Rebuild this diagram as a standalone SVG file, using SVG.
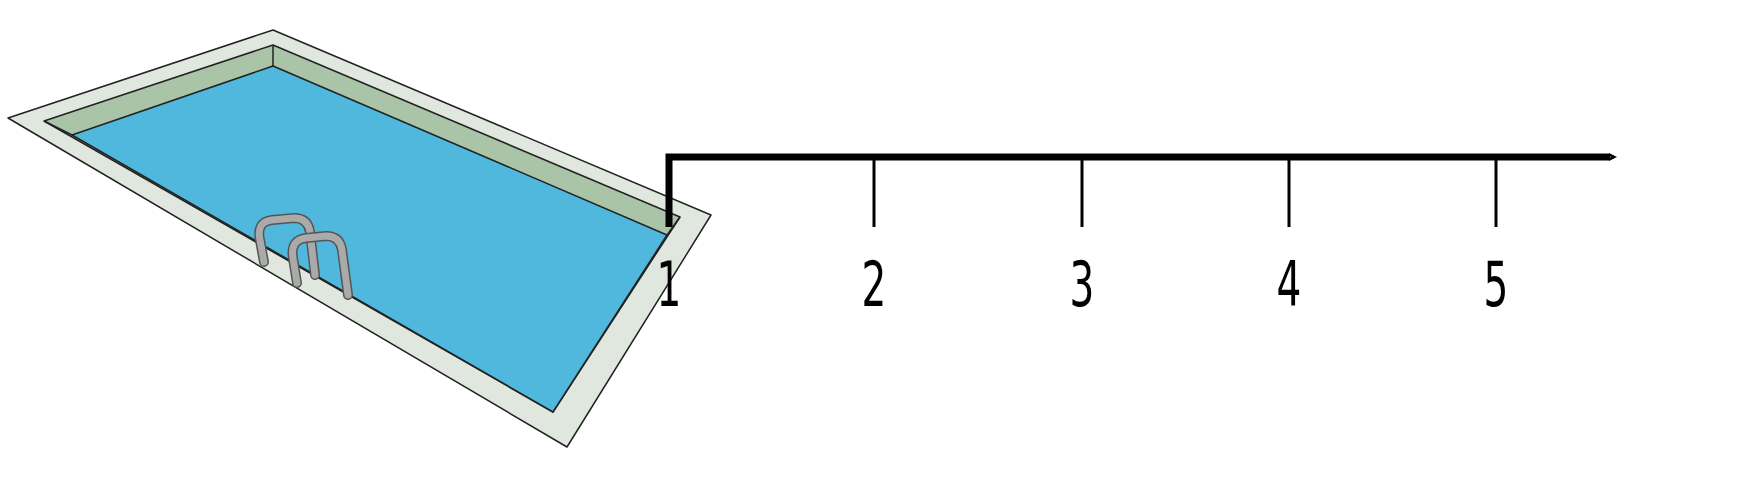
<svg xmlns="http://www.w3.org/2000/svg" width="1760" height="490" viewBox="0 0 1760 490">
<style>
.e{stroke:#222;stroke-width:1.5;stroke-linejoin:round}
.t{stroke:#000;stroke-width:3}
.l{font-family:"DejaVu Sans Condensed","Liberation Sans",sans-serif;font-size:62px;fill:#000;text-anchor:middle}
</style>
<defs><marker id="ah" markerWidth="8" markerHeight="8" refX="1" refY="4" orient="auto" markerUnits="userSpaceOnUse" viewBox="0 0 8 8"><path d="M0,0 L8,4 L0,8 L1.5,4Z"/></marker></defs>
<g id="pool">
<polygon class="e" fill="#dfe7de" points="273,30 711,215 567,447 8,118"/>
<polygon class="e" fill="#aac4a8" points="273,45 680,217 553,412 44,121"/>
<polygon class="e" fill="#4fb8dc" points="273,66 667,235 553,412 72,135"/>
<line class="e" x1="273" y1="45" x2="273" y2="66"/>
<line class="e" x1="680" y1="217" x2="667" y2="235"/>
<line class="e" x1="44" y1="121" x2="72" y2="135"/>
<g fill="none" stroke-linecap="round">
<path d="M264,262 L260,240 Q256,222 272,220 L294,218 Q308,218 310,232 L315,275" stroke="#555" stroke-width="10"/>
<path d="M264,262 L260,240 Q256,222 272,220 L294,218 Q308,218 310,232 L315,275" stroke="#aaa" stroke-width="7"/>
<path d="M297,283 L293,258 Q290,240 306,238 L326,236 Q340,236 342,250 L348,295" stroke="#555" stroke-width="10"/>
<path d="M297,283 L293,258 Q290,240 306,238 L326,236 Q340,236 342,250 L348,295" stroke="#aaa" stroke-width="7"/>
</g>
</g>
<g id="axis">
<path d="M669,227 L669,157 L1610,157" fill="none" stroke="#000" stroke-width="7" marker-end="url(#ah)"/>
<line class="t" x1="874" y1="157" x2="874" y2="227"/>
<line class="t" x1="1082" y1="157" x2="1082" y2="227"/>
<line class="t" x1="1289" y1="157" x2="1289" y2="227"/>
<line class="t" x1="1496" y1="157" x2="1496" y2="227"/>
</g>
<g id="labels">
<text class="l" transform="translate(669,306) scale(0.7,1)">1</text>
<text class="l" transform="translate(874,306) scale(0.7,1)">2</text>
<text class="l" transform="translate(1082,306) scale(0.7,1)">3</text>
<text class="l" transform="translate(1289,306) scale(0.7,1)">4</text>
<text class="l" transform="translate(1496,306) scale(0.7,1)">5</text>
</g>
</svg>
